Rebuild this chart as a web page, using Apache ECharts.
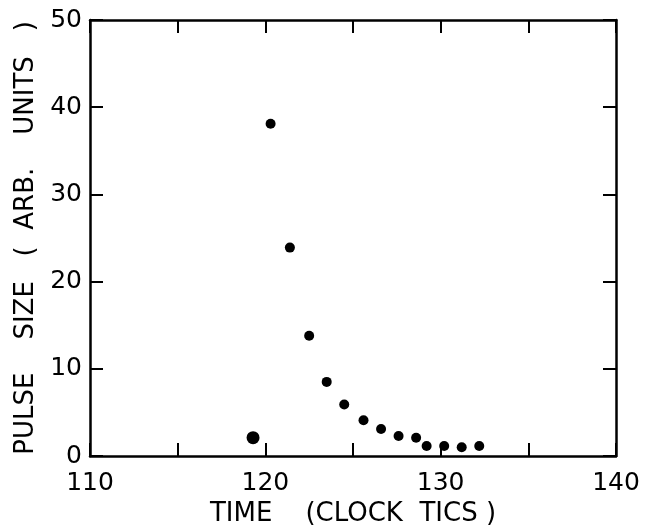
<!DOCTYPE html>
<html>
<head>
<meta charset="utf-8">
<script src="https://cdn.jsdelivr.net/npm/echarts@6/dist/echarts.min.js"></script>
<style>html,body{margin:0;padding:0;background:#fff}#c{width:645px;height:525px}</style>
</head>
<body>
<div id="c"></div>
<script>
var timeTics = [119.3, 120.3, 121.4, 122.5, 123.5, 124.5, 125.6, 126.6, 127.6, 128.6, 129.2, 130.2, 131.2, 132.2];
var pulseSize = [2.1, 38.1, 23.9, 13.8, 8.5, 5.9, 4.1, 3.1, 2.3, 2.1, 1.15, 1.15, 1.0, 1.15];
var xTickLabels = [110, 120, 130, 140];
var yTickLabels = [0, 10, 20, 30, 40, 50];

var data = timeTics.map(function (t, i) { return [t, pulseSize[i]]; });
var font = '"DejaVu Sans", sans-serif';
var lineStyle = { color: '#000', width: 2.5 };
var tickStyle = { show: true, inside: true, length: 13, lineStyle: { color: '#000', width: 2 } };

var chart = echarts.init(document.getElementById('c'), null, { renderer: 'canvas' });
chart.setOption({
  backgroundColor: '#fff',
  animation: false,
  grid: { left: 90, right: 29, top: 20, bottom: 69, show: false, containLabel: false, outerBoundsMode: 'none' },
  xAxis: [{
    type: 'value', min: 110, max: 140, interval: 5,
    name: 'TIME    (CLOCK  TICS )', nameLocation: 'middle', nameGap: 43,
    nameTextStyle: { fontFamily: font, fontSize: 26, color: '#000' },
    axisLine: { show: true, onZero: false, lineStyle: lineStyle },
    axisTick: tickStyle,
    axisLabel: {
      fontFamily: font, fontSize: 25, color: '#000', margin: 15,
      formatter: function (v) { return xTickLabels.indexOf(v) >= 0 ? String(v) : ''; }
    },
    splitLine: { show: false }
  }, {
    type: 'value', min: 110, max: 140, interval: 5, position: 'top',
    axisLine: { show: true, onZero: false, lineStyle: lineStyle },
    axisTick: tickStyle,
    axisLabel: { show: false }, splitLine: { show: false }
  }],
  yAxis: [{
    type: 'value', min: 0, max: 50, interval: 10,
    name: 'PULSE    SIZE   (  ARB.    UNITS   )', nameLocation: 'middle', nameGap: 50, nameRotate: 90,
    nameTextStyle: { fontFamily: font, fontSize: 26, color: '#000' },
    axisLine: { show: true, onZero: false, lineStyle: lineStyle },
    axisTick: tickStyle,
    axisLabel: {
      fontFamily: font, fontSize: 25, color: '#000', margin: 8,
      formatter: function (v) { return yTickLabels.indexOf(v) >= 0 ? String(v) : ''; }
    },
    splitLine: { show: false }
  }, {
    type: 'value', min: 0, max: 50, interval: 10, position: 'right',
    axisLine: { show: true, onZero: false, lineStyle: lineStyle },
    axisTick: tickStyle,
    axisLabel: { show: false }, splitLine: { show: false }
  }],
  series: [{
    type: 'scatter',
    data: data,
    symbol: 'circle',
    symbolSize: function (val, p) { return p.dataIndex === 0 ? 13 : 10; },
    itemStyle: { color: '#000', opacity: 1 }
  }]
});
</script>
</body>
</html>
